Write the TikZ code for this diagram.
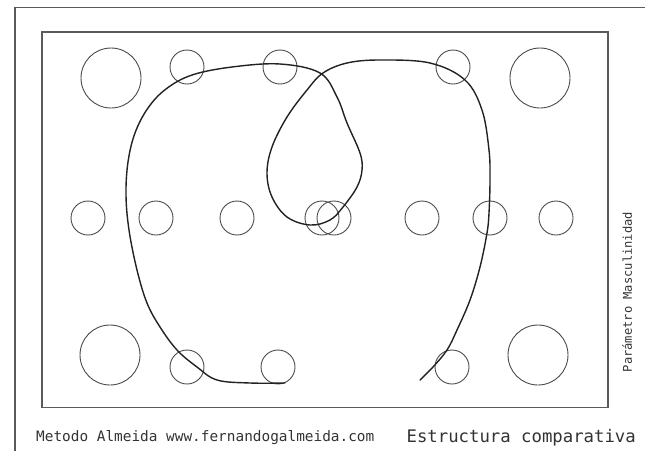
\documentclass[tikz,border=0pt]{standalone}
\usepackage{fontspec}
\setmonofont{DejaVu Sans Mono}
\usepackage{tikz}
\usepackage{xcolor}
\definecolor{framec}{HTML}{5A5A5A}
\definecolor{ringc}{HTML}{4A4A4A}
\definecolor{pathc}{HTML}{222222}
\definecolor{labelc}{HTML}{333333}
\tikzset{
  frame/.style={draw=framec, line width=1.1pt},
  ring/.style={draw=ringc, line width=0.9pt},
  trace/.style={draw=pathc, line width=1.4pt, line cap=round, line join=round},
  caption/.style={text=labelc, inner sep=0pt, font=\ttfamily},
}

\begin{document}
\begin{tikzpicture}[x=1pt,y=-1pt]
\useasboundingbox (0,0) rectangle (645,451);
\draw[frame] (15,451) -- (15,7.5) -- (645,7.5);
\draw[frame] (42,32) rectangle (608,407.5);
% top row
\draw[ring] (111,78) circle[radius=30pt];
\draw[ring] (187,67) circle[radius=17pt];
\draw[ring] (280,67) circle[radius=17pt];
\draw[ring] (453,67) circle[radius=17pt];
\draw[ring] (540,78) circle[radius=30pt];
% middle row
\draw[ring] (88,218) circle[radius=17pt];
\draw[ring] (156,218) circle[radius=17pt];
\draw[ring] (237,218) circle[radius=17pt];
\draw[ring] (322,218) circle[radius=17pt];
\draw[ring] (334,218) circle[radius=17pt];
\draw[ring] (422,218) circle[radius=17pt];
\draw[ring] (490,218) circle[radius=17pt];
\draw[ring] (556,218) circle[radius=17pt];
% bottom row
\draw[ring] (110,355) circle[radius=30pt];
\draw[ring] (187,367) circle[radius=17pt];
\draw[ring] (278,367) circle[radius=17pt];
\draw[ring] (452,367) circle[radius=17pt];
\draw[ring] (538,355) circle[radius=30pt];
% the trace
\draw[trace] plot[smooth, tension=0.6] coordinates {
  (285,383) (250,383) (217,380) (197,367) (177,350) (160,327) (147,303)
  (137,270) (129,230) (126,195) (128,162) (135,133) (148,108) (166,89)
  (192,75) (232,67) (280,64) (320,73) (337,97) (347,123) (360,153)
  (362,170) (357,187) (343,207) (330,220) (310,225) (287,217) (272,197)
  (267,173) (272,147) (287,117) (307,90) (323,73) (347,63) (380,60)
  (430,63) (465,80) (482,110) (489,150) (490,180) (489,213) (487,233)
  (480,267) (470,300) (457,330) (447,350) (433,367) (420,380)};
\node[caption, anchor=west, font=\ttfamily\fontsize{14.4}{16}\selectfont] (method) at (36,438) {Metodo Almeida www.fernandogalmeida.com};
\node[caption, anchor=east, font=\ttfamily\fontsize{17.3}{20}\selectfont] (title) at (636,438) {Estructura comparativa};
\node[caption, rotate=90, font=\ttfamily\fontsize{12.1}{14}\selectfont] (axis) at (627,292) {Parámetro Masculinidad};
\end{tikzpicture}
\end{document}
